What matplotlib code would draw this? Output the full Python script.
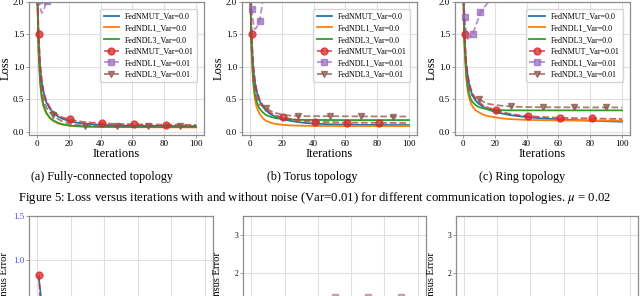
import matplotlib
matplotlib.use('Agg')
import matplotlib.pyplot as plt

plt.rcParams['font.family'] = ['Liberation Serif', 'DejaVu Serif']
plt.rcParams['mathtext.fontset'] = 'stix'

iters = [0, 1, 2, 3, 4, 5, 6, 8, 10, 13, 16, 21, 25, 30, 35, 41, 50, 61, 70, 81, 90, 100]

# (a) fully-connected
fc_nmut_0 = [2.4, 1.45, 1.0, 0.76, 0.62, 0.52, 0.45, 0.36, 0.30, 0.24, 0.20, 0.16, 0.14, 0.125, 0.115, 0.105, 0.098, 0.093, 0.09, 0.088, 0.086, 0.085]
fc_ndl1_0 = [2.4, 1.25, 0.75, 0.52, 0.40, 0.33, 0.28, 0.21, 0.17, 0.13, 0.11, 0.09, 0.083, 0.078, 0.075, 0.073, 0.071, 0.07, 0.069, 0.068, 0.068, 0.067]
fc_ndl3_0 = [2.4, 1.27, 0.77, 0.54, 0.42, 0.35, 0.29, 0.22, 0.18, 0.14, 0.115, 0.095, 0.088, 0.083, 0.08, 0.078, 0.076, 0.075, 0.074, 0.073, 0.073, 0.072]
fc_nmut_1 = [2.4, 1.5, 1.05, 0.8, 0.65, 0.55, 0.47, 0.38, 0.32, 0.26, 0.22, 0.19, 0.165, 0.15, 0.14, 0.13, 0.12, 0.115, 0.112, 0.11, 0.108, 0.105]
fc_ndl3_1 = [2.4, 1.35, 0.85, 0.62, 0.5, 0.42, 0.37, 0.3, 0.26, 0.2, 0.16, 0.12, 0.105, 0.095, 0.09, 0.088, 0.087, 0.086, 0.086, 0.085, 0.085, 0.085]
fc_ndl1_x = [0, 1, 2, 3, 4, 5, 6, 7, 8]
fc_ndl1_1 = [2.6, 2.03, 1.92, 1.83, 1.86, 1.93, 2.02, 2.15, 2.3]

# (b) torus
to_nmut_0 = [2.4, 1.45, 1.0, 0.78, 0.64, 0.55, 0.48, 0.39, 0.33, 0.27, 0.23, 0.19, 0.17, 0.15, 0.135, 0.125, 0.115, 0.11, 0.107, 0.105, 0.104, 0.103]
to_ndl1_0 = [2.4, 1.25, 0.75, 0.52, 0.4, 0.33, 0.28, 0.21, 0.17, 0.14, 0.12, 0.105, 0.098, 0.094, 0.092, 0.09, 0.089, 0.088, 0.088, 0.088, 0.088, 0.088]
to_ndl3_0 = [2.4, 1.3, 0.82, 0.6, 0.48, 0.41, 0.36, 0.3, 0.26, 0.23, 0.21, 0.195, 0.19, 0.185, 0.183, 0.182, 0.181, 0.18, 0.18, 0.18, 0.18, 0.18]
to_nmut_1 = [2.4, 1.5, 1.05, 0.82, 0.67, 0.58, 0.5, 0.41, 0.35, 0.29, 0.25, 0.22, 0.2, 0.18, 0.165, 0.155, 0.148, 0.142, 0.14, 0.138, 0.137, 0.135]
to_ndl3_1 = [2.4, 1.35, 0.88, 0.66, 0.54, 0.47, 0.42, 0.4, 0.37, 0.32, 0.29, 0.26, 0.25, 0.245, 0.24, 0.24, 0.24, 0.238, 0.237, 0.236, 0.235, 0.235]
to_ndl1_x = [0, 1, 2, 3, 4, 5, 6, 7, 8, 9]
to_ndl1_1 = [2.5, 1.89, 1.7, 1.58, 1.6, 1.65, 1.70, 1.85, 2.0, 2.2]

# (c) ring
ri_nmut_0 = [2.4, 1.45, 1.05, 0.85, 0.72, 0.63, 0.56, 0.48, 0.43, 0.38, 0.34, 0.3, 0.28, 0.255, 0.24, 0.225, 0.205, 0.19, 0.18, 0.17, 0.162, 0.155]
ri_ndl1_0 = [2.4, 1.3, 0.85, 0.63, 0.51, 0.44, 0.39, 0.33, 0.3, 0.26, 0.24, 0.22, 0.205, 0.195, 0.188, 0.183, 0.178, 0.175, 0.173, 0.172, 0.171, 0.17]
ri_ndl3_0 = [2.4, 1.35, 0.9, 0.68, 0.57, 0.5, 0.46, 0.41, 0.38, 0.36, 0.345, 0.335, 0.332, 0.33, 0.33, 0.33, 0.33, 0.33, 0.33, 0.33, 0.33, 0.33]
ri_nmut_1 = [2.4, 1.5, 1.08, 0.88, 0.75, 0.66, 0.59, 0.51, 0.46, 0.4, 0.37, 0.33, 0.3, 0.275, 0.255, 0.24, 0.228, 0.215, 0.21, 0.205, 0.2, 0.198]
ri_ndl3_1 = [2.4, 1.4, 0.95, 0.75, 0.65, 0.59, 0.55, 0.52, 0.5, 0.46, 0.43, 0.41, 0.4, 0.39, 0.385, 0.38, 0.378, 0.377, 0.376, 0.375, 0.375, 0.375]
ri_ndl1_x = [0, 1, 2, 3, 4, 5, 6, 8, 10, 11, 13, 15, 18, 20]
ri_ndl1_1 = [2.6, 1.77, 1.55, 1.43, 1.45, 1.48, 1.51, 1.63, 1.77, 1.84, 1.91, 1.97, 2.05, 2.1]

labels = ['FedNMUT_Var=0.0', 'FedNDL1_Var=0.0', 'FedNDL3_Var=0.0',
          'FedNMUT_Var=0.01', 'FedNDL1_Var=0.01', 'FedNDL3_Var=0.01']
captions = ['(a) Fully-connected topology', '(b) Torus topology', '(c) Ring topology']

# next figure (cut off at the bottom of the page)
ce_x = [1, 2, 3, 4, 6, 10]
ce_nmut_0 = [0.78, 0.62, 0.38, 0.25, 0.15, 0.08]
ce_nmut_1 = [0.84, 0.3, 0.2, 0.15, 0.1, 0.08]
ce_sq_x = [50, 70, 90]
ce_sq = [1.37, 1.37, 1.37]

topologies = [
    (fc_nmut_0, fc_ndl1_0, fc_ndl3_0, fc_nmut_1, fc_ndl1_x, fc_ndl1_1, fc_ndl3_1),
    (to_nmut_0, to_ndl1_0, to_ndl3_0, to_nmut_1, to_ndl1_x, to_ndl1_1, to_ndl3_1),
    (ri_nmut_0, ri_ndl1_0, ri_ndl3_0, ri_nmut_1, ri_ndl1_x, ri_ndl1_1, ri_ndl3_1),
]

W, H = 640, 296
fig = plt.figure(figsize=(W / 100, H / 100), dpi=100)
spine_c = '0.55'
grid_c = '#e0e0e0'


def px_axes(left, top, right, bottom):
    return fig.add_axes([left / W, 1 - bottom / H, (right - left) / W, (bottom - top) / H])


def style(ax, fs):
    ax.grid(True, color=grid_c, linewidth=0.8)
    ax.set_axisbelow(True)
    for s in ax.spines.values():
        s.set_color(spine_c)
        s.set_linewidth(0.9)
    ax.tick_params(labelsize=fs, length=2, width=0.6, pad=1.5, color=spine_c)


red_marks = [iters.index(v) for v in (1, 21, 41, 61, 81)]
brown_marks = [iters.index(v) for v in (10, 30, 50, 70, 90)]

for i, (nm0, d10, d30, nm1, d1x, d11, d31) in enumerate(topologies):
    off = 213 * i
    ax = px_axes(29 + off, 2, 204 + off, 135)
    style(ax, 6.5)
    ax.plot(iters, nm0, color='#1f77b4', lw=1.3, label=labels[0])
    ax.plot(iters, d10, color='#ff7f0e', lw=1.3, label=labels[1])
    ax.plot(iters, d30, color='#2ca02c', lw=1.3, label=labels[2])
    ax.plot(iters, nm1, color='#d62728', lw=1.3, ls='--', marker='o', ms=5,
            markevery=red_marks, alpha=0.75, label=labels[3])
    ax.plot(d1x, d11, color='#9467bd', lw=1.3, ls='--', marker='s', ms=5,
            markevery=[k for k, v in enumerate(d1x) if v in (1, 6, 11)], alpha=0.7, label=labels[4])
    ax.plot(iters, d31, color='#8c564b', lw=1.3, ls='--', marker='v', ms=5,
            markevery=brown_marks, alpha=0.75, label=labels[5])
    ax.set_xlim(-5, 105)
    ax.set_ylim(-0.05, 2.0)
    ax.set_xticks(range(0, 101, 20))
    ax.set_yticks([0, 0.5, 1.0, 1.5, 2.0])
    ax.set_yticklabels(['0.0', '0.5', '1.0', '1.5', '2.0'])
    ax.set_xlabel('Iterations', fontsize=9, labelpad=0)
    ax.set_ylabel('Loss', fontsize=9, labelpad=1)
    ax.legend(loc='upper right', fontsize=5.8, handlelength=1.9, labelspacing=0.45,
              borderpad=0.4, handletextpad=0.8, edgecolor='#cccccc', framealpha=0.8,
              bbox_to_anchor=(0.985, 0.975))
    fig.text((102 + 210 * i) / W, 1 - 177 / H, captions[i], fontsize=8.7,
             ha='center', va='center')

fig.text(315 / W, 1 - 198 / H,
         'Figure 5: Loss versus iterations with and without noise (Var=0.01) '
         'for different communication topologies. $\\mu$ = 0.02',
         fontsize=9.2, ha='center', va='center')

# bottom row, partly visible
bx = [(29, 213), (243, 426), (456, 638)]
for j, (l, r) in enumerate(bx):
    ax = px_axes(l, 216, r, 349)
    style(ax, 5.5)
    ax.set_xlim(-5, 105)
    ax.set_xticks(range(0, 101, 20))
    ax.tick_params(labelbottom=False)
    if j == 0:
        ax.set_ylim(0, 1.5)
        ax.set_yticks([0.5, 1.0, 1.5])
        ax.tick_params(labelsize=6.5, labelcolor='#4b4bff')
        ax.plot(ce_x, ce_nmut_0, color='#1f77b4', lw=1.2)
        ax.plot(ce_x, ce_nmut_1, color='#d62728', lw=1.2, ls='--', marker='o', ms=5,
                markevery=[0], alpha=0.75)
    else:
        ax.set_ylim(0, 3.5)
        ax.set_yticks([1, 2, 3])
        if j == 1:
            ax.plot(ce_sq_x, ce_sq, color='#8c564b', lw=1.2, ls='--', marker='s', ms=5,
                    alpha=0.45)
    fig.text((5 + 213 * j) / W, 1 - 252 / H, 'Consensus Error', fontsize=7.6,
             rotation=90, ha='center', va='top')

fig.savefig('out.png', dpi=100)
